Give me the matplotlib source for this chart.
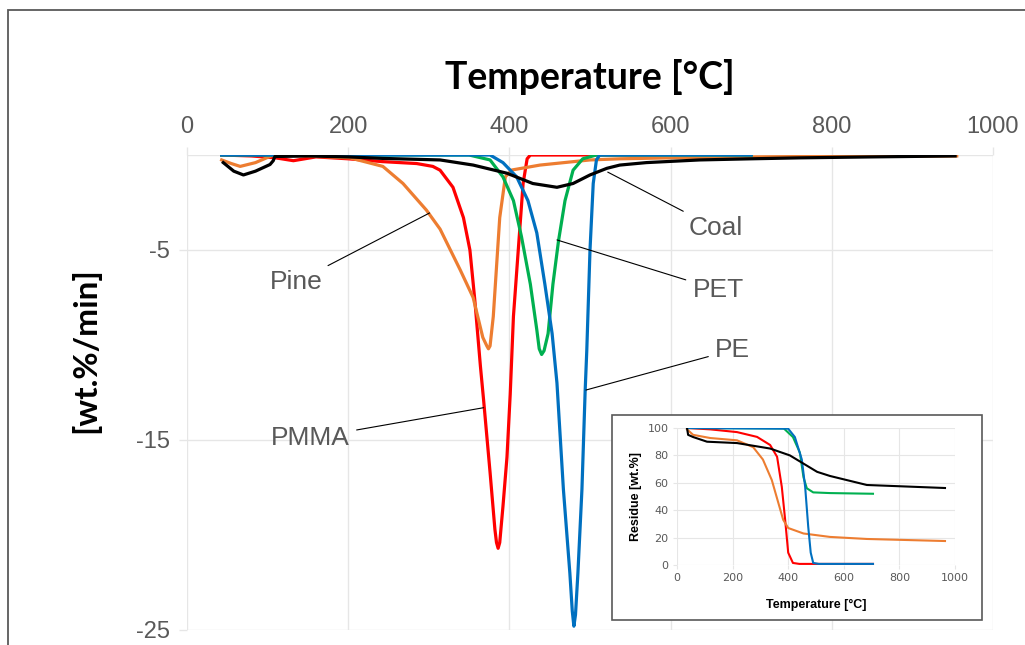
import matplotlib
matplotlib.use("Agg")
import matplotlib.pyplot as plt
from matplotlib.patches import Rectangle

plt.rcParams["axes.unicode_minus"] = False

# DTG curves (temperature in degC, rate in wt.%/min)
pmma_t = [43, 80, 110, 132, 160, 200, 243, 285, 305, 314, 330, 343, 351, 357, 364, 368, 376, 382, 384,
          386, 388, 392, 397, 401, 405, 411, 417, 422, 426, 500, 700]
pmma_y = [0, -0.05, -0.15, -0.3, -0.1, -0.2, -0.35, -0.45, -0.6, -0.8, -1.7, -3.3, -5.0, -7.6, -11.1,
          -12.9, -16.7, -19.7, -20.4, -20.7, -20.4, -18.5, -15.9, -12.6, -8.5, -5.0, -1.5, -0.2, 0, 0, 0]

pine_t = [43, 55, 66, 85, 107, 150, 202, 243, 268, 297, 314, 339, 355, 367, 372, 374, 376, 380, 384,
          388, 395, 403, 438, 500, 537, 600, 700, 800, 955]
pine_y = [-0.26, -0.45, -0.6, -0.4, 0, -0.05, -0.15, -0.6, -1.5, -2.9, -3.9, -6.05, -7.5, -9.6, -10.05,
          -10.2, -10.05, -8.5, -5.9, -3.3, -1.15, -0.79, -0.53, -0.26, -0.2, -0.15, -0.1, -0.07, -0.05]

pet_t = [43, 300, 350, 376, 392, 405, 415, 426, 434, 437, 440, 443, 448, 454, 461, 469, 479, 491, 508,
         700]
pet_y = [0, 0, 0, -0.26, -1.15, -2.4, -4.3, -6.8, -9.2, -10.2, -10.5, -10.3, -9.4, -6.8, -4.5, -2.4,
         -0.8, -0.2, 0, 0]

pe_t = [43, 300, 376, 392, 409, 423, 434, 444, 453, 459, 467, 475, 478, 480, 482, 485, 490, 494, 496,
        500, 504, 508, 512, 700]
pe_y = [0, 0, 0, -0.4, -1.15, -2.4, -4.1, -6.8, -9.4, -12.0, -17.6, -22.0, -24.0, -24.8, -24.2, -22.0,
        -17.6, -12.4, -10.3, -5.0, -1.5, -0.26, 0, 0]

coal_t = [45, 58, 70, 85, 103, 107, 109, 150, 200, 243, 314, 355, 397, 429, 459, 479, 500, 521, 537,
          570, 636, 700, 760, 850, 953]
coal_y = [-0.4, -0.85, -1.05, -0.85, -0.5, -0.3, -0.08, -0.05, -0.1, -0.18, -0.26, -0.53, -0.96, -1.5,
          -1.7, -1.5, -1.05, -0.7, -0.53, -0.4, -0.26, -0.2, -0.15, -0.1, -0.05]

# TG residue curves (inset, wt.%)
res_pmma_t = [36, 120, 216, 288, 335, 360, 377, 389, 400, 417, 440, 705]
res_pmma_y = [100, 99, 97, 93.5, 87.6, 79, 57, 33, 9, 1.5, 0.8, 0.8]
res_pine_t = [36, 58, 119, 216, 274, 309, 341, 365, 382, 400, 455, 550, 683, 964]
res_pine_y = [99, 95, 92.7, 91, 86, 77, 62, 45, 33, 27, 23, 20.5, 19, 17.5]
res_pet_t = [36, 384, 417, 442, 455, 467, 490, 550, 705]
res_pet_y = [100, 99.7, 93.4, 82, 64, 56, 53, 52.5, 52]
res_pe_t = [36, 400, 424, 449, 461, 472, 481, 490, 510, 705]
res_pe_y = [100, 99.5, 93.4, 77, 57, 28, 9, 1.5, 0.8, 0.8]
res_coal_t = [36, 40, 58, 108, 216, 335, 406, 455, 504, 550, 683, 964]
res_coal_y = [100, 95, 93.4, 90, 89, 85, 80, 74, 68, 65, 58.4, 56.2]

series = [
    ("PMMA", pmma_t, pmma_y, res_pmma_t, res_pmma_y, "#ff0000"),
    ("Pine", pine_t, pine_y, res_pine_t, res_pine_y, "#ed7d31"),
    ("PET", pet_t, pet_y, res_pet_t, res_pet_y, "#00b050"),
    ("PE", pe_t, pe_y, res_pe_t, res_pe_y, "#0070c0"),
    ("Coal", coal_t, coal_y, res_coal_t, res_coal_y, "#000000"),
]

# label text position, point on curve
labels = {
    "Coal": ((622, -3.84), (522, -0.9)),
    "Pine": ((135, -6.7), (301, -3.05)),
    "PET": ((659, -7.1), (459, -4.47)),
    "PE": ((677, -10.26), (495, -12.37)),
    "PMMA": ((153, -14.9), (368, -13.3)),
}

W, H = 1025, 645
fig = plt.figure(figsize=(W / 100, H / 100), dpi=100)
fig.patch.set_facecolor("white")

grey = "#595959"
grid_c = "#e6e6e6"

# outer frame
fig.patches.append(Rectangle((8 / W, -0.1), 1.2, 1 - 10 / H + 0.1, transform=fig.transFigure,
                             fill=False, edgecolor="#595959", linewidth=1.3, zorder=0))

ax = fig.add_axes([187 / W, 1 - 630 / H, (993 - 187) / W, (630 - 155) / H])
for name, t, y, rt, ry, c in series:
    ax.plot(t, y, color=c, linewidth=2.3, zorder=3, solid_joinstyle="round")

ax.set_xlim(0, 1000)
ax.set_ylim(-25, 0)
ax.set_xticks(range(0, 1001, 200))
ax.set_yticks([-25, -15, -5])
ax.xaxis.tick_top()
ax.xaxis.set_label_position("top")
ax.tick_params(axis="both", colors=grid_c, labelcolor=grey, labelsize=17, length=6, width=1, pad=6)
ax.grid(True, color=grid_c, linewidth=1)
ax.axhline(0, color=grid_c, linewidth=1, zorder=0)
for s in ax.spines.values():
    s.set_visible(False)
for lab in ax.get_xticklabels() + ax.get_yticklabels():
    lab.set_fontfamily("Liberation Sans")

ax.set_xlabel("Temperature [°C]", fontsize=27, fontweight="bold", fontfamily="Lato", labelpad=20)
fig.text(85 / W, 1 - 350 / H, "[wt.%/min]", rotation=90, ha="center", va="center",
         fontsize=24, fontweight="bold", fontfamily="Lato")

for name, (txt, pt) in labels.items():
    ha = "left" if name == "Coal" else "center"
    ax.annotate(name, xy=pt, xytext=txt, ha=ha, va="center", fontsize=19, color=grey,
                fontfamily="Liberation Sans",
                arrowprops=dict(arrowstyle="-", color="black", linewidth=0.8, shrinkA=3, shrinkB=0),
                zorder=4)

# inset box
fig.patches.append(Rectangle((612 / W, 1 - 620 / H), (982 - 612) / W, (620 - 415) / H,
                             transform=fig.transFigure, facecolor="white", edgecolor="#595959",
                             linewidth=1.2, zorder=1))

axi = fig.add_axes([677 / W, 1 - 565 / H, (955 - 677) / W, (565 - 428) / H], zorder=2)
axi.set_facecolor("white")
for name, t, y, rt, ry, c in series:
    axi.plot(rt, ry, color=c, linewidth=1.5, zorder=3, solid_joinstyle="round")
axi.set_xlim(0, 1000)
axi.set_ylim(0, 100)
axi.set_xticks(range(0, 1001, 200))
axi.set_yticks(range(0, 101, 20))
axi.tick_params(axis="both", colors=grid_c, labelcolor=grey, labelsize=8, length=3, pad=3)
axi.grid(True, color=grid_c, linewidth=0.8)
for s in axi.spines.values():
    s.set_visible(False)
axi.set_xlabel("Temperature [°C]", fontsize=9, fontweight="bold", labelpad=11,
               fontfamily="Liberation Sans")
axi.set_ylabel("Residue [wt.%]", fontsize=9, fontweight="bold", labelpad=4,
               fontfamily="Liberation Sans")

fig.savefig("out.png", dpi=100, facecolor="white")
